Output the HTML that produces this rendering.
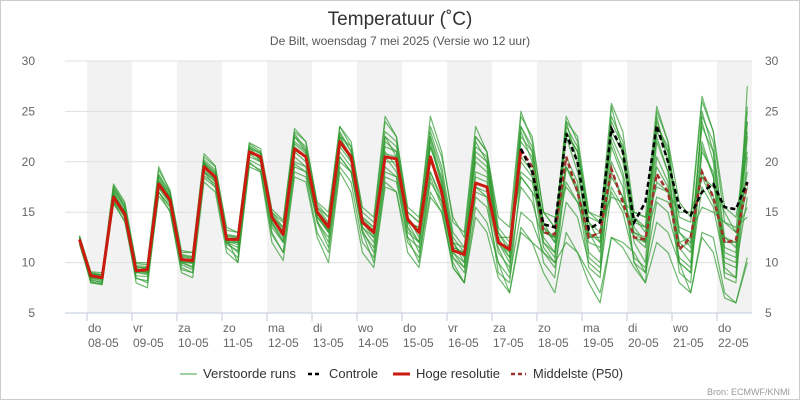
<!DOCTYPE html>
<html><head><meta charset="utf-8"><style>
body{margin:0;background:#fff;}
svg{display:block;font-family:"Liberation Sans",sans-serif;}
</style></head><body>
<svg id="chart" width="800" height="400" viewBox="0 0 800 400">
<rect x="0.5" y="0.5" width="799" height="399" fill="#fff" stroke="#ccc"/>
<text x="400" y="25" text-anchor="middle" font-size="19" fill="#333">Temperatuur (˚C)</text>
<text x="400" y="45" text-anchor="middle" font-size="12" fill="#555">De Bilt, woensdag 7 mei 2025 (Versie wo 12 uur)</text>
<g id="bands"></g><g id="grid"></g><g id="members"></g><g id="lines"></g><g id="axes"></g>
<g id="legend">
<line x1="180" y1="374" x2="197" y2="374" stroke="#9fd09f" stroke-width="2"/>
<text x="203" y="378" font-size="13" fill="#333" textLength="93" lengthAdjust="spacingAndGlyphs">Verstoorde runs</text>
<line x1="308" y1="374" x2="322" y2="374" stroke="#000" stroke-width="2.5" stroke-dasharray="4,3"/>
<text x="329" y="378" font-size="13" fill="#333" textLength="49" lengthAdjust="spacingAndGlyphs">Controle</text>
<line x1="393" y1="374" x2="410" y2="374" stroke="#cc1a10" stroke-width="3"/>
<text x="416" y="378" font-size="13" fill="#333" textLength="84" lengthAdjust="spacingAndGlyphs">Hoge resolutie</text>
<line x1="511" y1="374" x2="526" y2="374" stroke="#a0302a" stroke-width="2.5" stroke-dasharray="4,3"/>
<text x="533" y="378" font-size="13" fill="#333" textLength="90" lengthAdjust="spacingAndGlyphs">Middelste (P50)</text>
</g>
<text x="790" y="395" text-anchor="end" font-size="9" fill="#999">Bron: ECMWF/KNMI</text>
</svg>
<script>
const dayNames = ["do","vr","za","zo","ma","di","wo","do","vr","za","zo","ma","di","wo","do"];
const dayDates = ["08-05","09-05","10-05","11-05","12-05","13-05","14-05","15-05","16-05","17-05","18-05","19-05","20-05","21-05","22-05"];
const yTicks = [5,10,15,20,25,30];
// 6-hourly values starting 07-05 20:00
const hres = [12.3, 8.7,8.5,16.5,14.8, 9.2,9.3,17.8,16.2, 10.3,10.2,19.5,18.5, 12.3,12.3,21.0,20.5, 14.5,12.8,21.3,20.5, 15.0,13.5,22.0,20.5, 14.0,13.0,20.5,20.3, 14.3,13.0,20.5,17.0, 11.2,10.8,17.9,17.5, 12.0,11.3,21.2];
const p50Start = 39;
const p50 = [21.2,19.5, 13.0,12.8,20.5,17.0, 12.5,13.0,19.3,16.0, 12.5,12.3,18.8,17.0, 11.3,12.5,19.0,16.5, 12.0,12.2,18.0];
const controlStart = 39;
const control = [21.3,19.0, 13.8,13.5,22.8,20.0, 13.3,14.0,23.3,21.0, 14.0,16.0,23.6,20.0, 15.5,14.7,17.0,17.8, 15.5,15.3,18.0];
const m1 = [12.0, 8.3,8.0,17.0,15.0, 9.0,8.8,18.5,16.5, 10.0,9.5,20.0,18.0, 12.0,11.0,21.5,20.0, 14.0,12.0,22.5,21.0, 14.5,13.0,23.0,21.0, 13.5,12.0,22.0,21.0, 14.0,12.0,22.5,18.0, 11.0,10.0,22.0,20.0, 12.0,10.0,23.0,20.0, 12.0,10.5,24.0,20.0, 11.0,10.0,25.5,21.0, 12.0,10.0,24.5,20.0, 10.0,9.0,25.0,21.0, 9.0,8.5,27.5];
const m2 = [12.5, 9.0,8.8,16.0,14.0, 8.5,8.0,17.0,15.5, 9.5,9.0,19.0,17.5, 12.5,10.0,20.0,19.0, 13.0,11.0,19.5,19.0, 14.0,11.5,20.0,19.0, 13.0,10.0,18.0,17.0, 12.0,10.5,17.0,15.0, 10.0,8.0,15.5,14.0, 10.0,7.0,13.0,12.0, 11.0,10.0,12.0,11.0, 9.0,7.0,12.5,12.0, 11.0,9.0,14.0,13.0, 10.0,7.0,13.0,12.5, 7.0,6.0,10.0];
const m3 = [12.2, 8.5,8.3,17.5,15.5, 9.3,9.0,18.0,16.0, 10.5,10.0,19.8,18.5, 12.5,12.0,21.0,20.5, 14.5,13.0,22.0,21.0, 15.0,13.0,22.5,20.0, 14.0,13.0,21.5,21.0, 14.5,12.5,21.5,18.0, 12.0,10.5,21.0,20.0, 13.0,11.0,22.5,21.0, 14.0,12.0,23.5,21.5, 14.0,12.0,24.5,22.0, 14.5,13.0,24.0,21.0, 12.0,11.0,24.0,20.0, 11.0,10.5,24.0];
const m4 = [12.4, 8.0,7.9,16.8,15.0, 9.5,9.5,17.5,16.0, 10.0,10.0,19.0,18.0, 12.0,12.0,20.8,20.5, 14.5,13.5,21.0,20.0, 15.5,14.0,21.5,20.0, 14.5,13.5,20.0,20.0, 14.5,13.0,20.0,17.5, 11.5,11.0,17.5,17.0, 12.0,11.0,20.5,19.0, 13.0,12.5,19.5,17.0, 12.5,13.0,19.0,16.5, 13.0,12.5,18.0,17.0, 12.0,12.5,18.5,16.0, 12.0,12.0,17.5];
const m5 = [12.6, 9.0,8.8,17.8,16.0, 10.0,10.0,19.5,17.0, 11.0,11.0,20.5,19.5, 13.5,13.0,21.8,21.0, 15.0,14.0,23.0,22.0, 16.0,15.0,23.5,22.0, 15.0,14.0,24.0,22.5, 15.0,14.0,24.5,21.0, 14.0,13.0,23.5,21.0, 14.5,13.5,25.0,22.0, 15.0,13.5,23.0,21.0, 15.0,14.0,25.8,23.0, 15.0,14.5,25.5,22.0, 16.0,14.5,26.5,23.0, 14.0,13.0,25.0];
const m6 = [12.0, 8.0,7.8,16.0,14.5, 8.0,7.5,17.0,15.0, 9.0,8.5,18.0,17.0, 11.0,10.0,19.5,19.0, 12.0,10.2,18.5,18.0, 12.5,10.0,19.0,17.0, 11.0,9.5,17.5,17.0, 11.0,9.5,16.5,15.0, 9.5,8.0,14.5,13.0, 8.5,7.0,13.5,12.0, 9.0,7.0,13.0,11.0, 8.0,6.0,12.5,11.5, 9.5,8.0,12.0,11.0, 8.0,7.0,12.5,11.0, 6.5,6.0,10.5];
const m7 = [12.3, 8.6,8.4,16.3,14.7, 9.0,9.2,17.9,16.3, 10.2,10.0,19.2,18.3, 12.2,12.0,20.5,20.0, 14.0,12.5,21.5,20.5, 14.5,13.0,22.5,20.5, 13.5,12.5,21.0,19.5, 13.0,12.0,19.0,16.5, 11.0,9.5,19.0,18.5, 11.5,9.0,22.0,20.5, 12.5,11.0,22.5,19.0, 13.0,12.0,22.0,19.0, 13.5,12.0,22.5,19.0, 11.5,10.0,22.0,18.5, 10.5,10.0,23.0];
const m8 = [12.1, 8.8,8.6,16.6,15.2, 9.4,9.1,18.2,16.6, 10.6,10.4,19.7,18.8, 12.6,12.4,21.2,20.2, 14.2,12.8,20.5,19.5, 14.0,12.5,20.5,19.0, 13.0,11.5,19.0,18.5, 13.5,11.0,18.0,16.0, 10.5,9.0,16.5,15.5, 10.0,8.5,15.0,14.0, 11.0,9.5,16.0,14.5, 10.0,9.0,17.0,15.0, 10.5,9.5,16.0,15.0, 10.5,9.5,17.5,15.5, 10.0,9.5,16.5];
const m9 = [12.4, 8.4,8.2,16.9,15.1, 9.1,8.9,17.4,15.8, 10.0,9.6,19.4,18.6, 12.0,11.5,21.3,20.8, 15.0,13.5,22.5,21.5, 15.5,14.5,23.5,21.5, 14.5,13.5,23.0,22.0, 14.0,13.5,23.0,19.5, 13.0,11.5,22.5,21.0, 13.0,11.5,23.5,21.0, 13.5,12.5,24.5,22.0, 14.0,13.0,22.5,20.0, 14.5,13.5,23.5,21.5, 13.0,12.0,23.5,21.0, 12.5,11.5,25.5];
const m10 = [12.2, 8.7,8.5,16.2,14.6, 9.6,9.4,17.6,16.1, 10.4,10.3,19.0,18.2, 12.4,12.2,20.8,20.0, 13.5,12.0,20.0,19.5, 14.5,13.5,21.0,19.5, 14.0,12.5,20.5,19.0, 14.0,13.5,21.5,18.5, 12.5,11.0,20.0,19.0, 12.5,12.5,18.5,17.0, 15.0,14.5,17.5,16.0, 14.5,14.0,16.5,16.0, 15.0,14.5,17.5,17.0, 15.0,15.0,18.5,17.5, 15.0,13.0,15.5];
const m11 = [12.5, 8.9,8.7,17.2,15.4, 9.7,9.6,18.6,16.8, 10.8,10.6,20.2,19.2, 12.8,12.6,21.6,20.8, 14.8,13.2,22.8,21.2, 15.2,13.8,22.0,20.5, 14.2,13.0,22.5,21.5, 15.0,14.0,22.0,17.5, 12.0,11.5,20.5,19.5, 12.0,10.5,20.0,18.5, 11.5,10.0,20.5,18.0, 10.5,9.5,20.0,17.5, 10.0,8.0,20.5,18.0, 9.0,8.0,21.5,18.5, 8.5,8.0,20.5];
const m12 = [12.0, 8.2,8.1,16.4,14.9, 8.7,8.6,17.0,15.6, 9.8,9.3,18.6,17.8, 11.8,11.2,20.2,19.6, 13.8,12.2,19.8,19.0, 14.2,12.0,20.5,19.0, 13.2,11.0,19.5,18.5, 12.5,11.5,19.0,16.0, 10.5,9.5,17.0,16.5, 11.0,9.5,17.5,16.0, 12.0,11.0,18.0,16.0, 12.0,11.5,17.5,15.5, 12.5,12.0,16.5,16.0, 13.5,13.0,15.5,15.0, 14.0,13.5,14.5];
const m13 = [12.3, 8.5,8.4,17.3,15.6, 9.2,9.0,18.8,16.9, 10.1,9.9,19.9,18.9, 12.1,11.8,21.4,20.9, 14.6,12.9,21.8,20.8, 14.8,13.2,22.8,21.0, 14.0,12.8,22.5,20.5, 13.5,12.0,22.5,19.0, 12.0,10.0,21.5,20.5, 12.5,10.5,23.5,21.5, 13.5,12.0,23.0,21.0, 13.0,11.0,24.0,21.5, 12.5,11.5,25.0,22.0, 13.0,11.5,24.5,22.0, 11.5,11.0,24.0];
const m14 = [12.6, 8.8,8.8,16.7,15.0, 9.3,9.4,18.1,16.4, 10.7,10.5,20.0,19.0, 12.7,12.5,21.0,20.3, 14.3,13.0,21.2,20.6, 15.2,13.7,21.8,20.3, 14.3,13.2,20.8,20.5, 14.3,13.2,20.5,17.3, 11.5,11.0,18.5,18.0, 12.0,11.5,19.0,18.0, 13.0,12.5,19.5,17.5, 12.5,12.5,18.5,16.5, 13.0,12.0,19.5,17.5, 11.5,12.0,19.0,16.5, 12.5,12.0,19.0];
const m15 = [11.8, 8.1,7.9,15.8,14.2, 8.4,8.2,16.6,15.2, 9.3,9.0,18.4,17.5, 11.5,10.5,19.8,19.2, 12.8,11.0,19.0,18.5, 13.0,11.0,19.5,18.0, 12.0,10.5,18.5,18.0, 12.5,10.0,18.5,15.5, 9.5,8.0,17.5,16.5, 9.0,8.0,18.5,17.0, 10.0,8.5,19.5,17.0, 9.5,8.5,21.5,18.5, 10.0,9.0,22.0,19.0, 10.0,9.0,21.0,19.0, 9.5,8.5,22.5];
const m16 = [12.7, 9.1,9.0,17.6,15.8, 9.9,9.8,19.2,17.2, 11.2,11.0,20.8,19.6, 13.2,13.0,21.9,21.3, 15.3,14.2,23.3,22.0, 15.8,14.5,22.5,21.5, 15.5,14.5,24.5,22.5, 15.5,14.5,23.5,20.5, 14.5,12.5,22.5,21.0, 13.5,12.0,24.5,22.5, 15.0,13.5,24.0,22.5, 15.0,14.5,23.0,21.0, 14.0,13.5,23.0,21.0, 14.5,14.0,26.0,23.0, 15.5,14.5,21.0];
const members = [m1,m2,m3,m4,m5,m6,m7,m8,m9,m10,m11,m12,m13,m14,m15,m16];

const NS = "http://www.w3.org/2000/svg";
const plotL = 65, plotR = 752, plotT = 61, plotB = 313;
const day0X = 87, dayW = 45;
const yMin = 5, yMax = 30;
function xOfIndex(i){ const h = -4 + 6*i; return day0X + h/24*dayW + (i/59)*4; }
function yOf(v){ return plotB - (v - yMin)/(yMax - yMin)*(plotB - plotT); }
function el(tag, attrs, parent){ const e = document.createElementNS(NS, tag); for (const k in attrs) e.setAttribute(k, attrs[k]); parent.appendChild(e); return e; }

const bands = document.getElementById('bands');
for (let d = 0; d < dayDates.length; d += 2) {
  const x1 = day0X + d*dayW, x2 = Math.min(x1 + dayW, plotR);
  const r = el('rect', {x:x1, y:plotT, width:x2-x1, height:plotB-plotT, fill:'#f2f2f2'}, bands);
  
  
}
const grid = document.getElementById('grid');
const axes = document.getElementById('axes');
yTicks.forEach(v => {
  const y = yOf(v);
  const g = el('line', {x1:plotL, x2:plotR, y1:y, y2:y, stroke: v===yMin ? '#c0c8d8' : '#e0e0e0', 'stroke-width':1}, grid);
  
  
  const tl = el('text', {x:35, y:y+4, 'text-anchor':'end', 'font-size':12, fill:'#666'}, axes);
  tl.textContent = v;
  
  
  const tr = el('text', {x:765, y:y+4, 'text-anchor':'start', 'font-size':12, fill:'#666'}, axes);
  tr.textContent = v;
  
  
});
dayDates.forEach((d, i) => {
  const x = day0X + i*dayW;
  const t = el('line', {x1:x, x2:x, y1:plotB, y2:plotB+8, stroke:'#c0c8d8'}, axes);
  
  
  const a = el('text', {x:x+1, y:332, 'font-size':12, fill:'#666'}, axes);
  a.textContent = dayNames[i];
  
  
  const b = el('text', {x:x+1, y:347, 'font-size':12, fill:'#666'}, axes);
  b.textContent = d;
  
  
});
function pathFor(arr, start){ return arr.map((v,i)=> (i?'L':'M') + xOfIndex(start+i).toFixed(1) + ',' + yOf(v).toFixed(1)).join(''); }
const mg = document.getElementById('members');
members.forEach(m => {
  const p = el('path', {d:pathFor(m,0), fill:'none', stroke:'#2e9a2e', 'stroke-opacity':0.7, 'stroke-width':1.2, 'stroke-linejoin':'round'}, mg);
  
  
});
const lg = document.getElementById('lines');
const hp = el('path', {d:pathFor(hres,0), fill:'none', stroke:'#cc1a10', 'stroke-width':3, 'stroke-linejoin':'round'}, lg);


const pp = el('path', {d:pathFor(p50,p50Start), fill:'none', stroke:'#a0302a', 'stroke-width':2.5, 'stroke-dasharray':'5,3'}, lg);


const cp = el('path', {d:pathFor(control,controlStart), fill:'none', stroke:'#000', 'stroke-width':2.5, 'stroke-dasharray':'5,3'}, lg);


</script>
</body></html>
